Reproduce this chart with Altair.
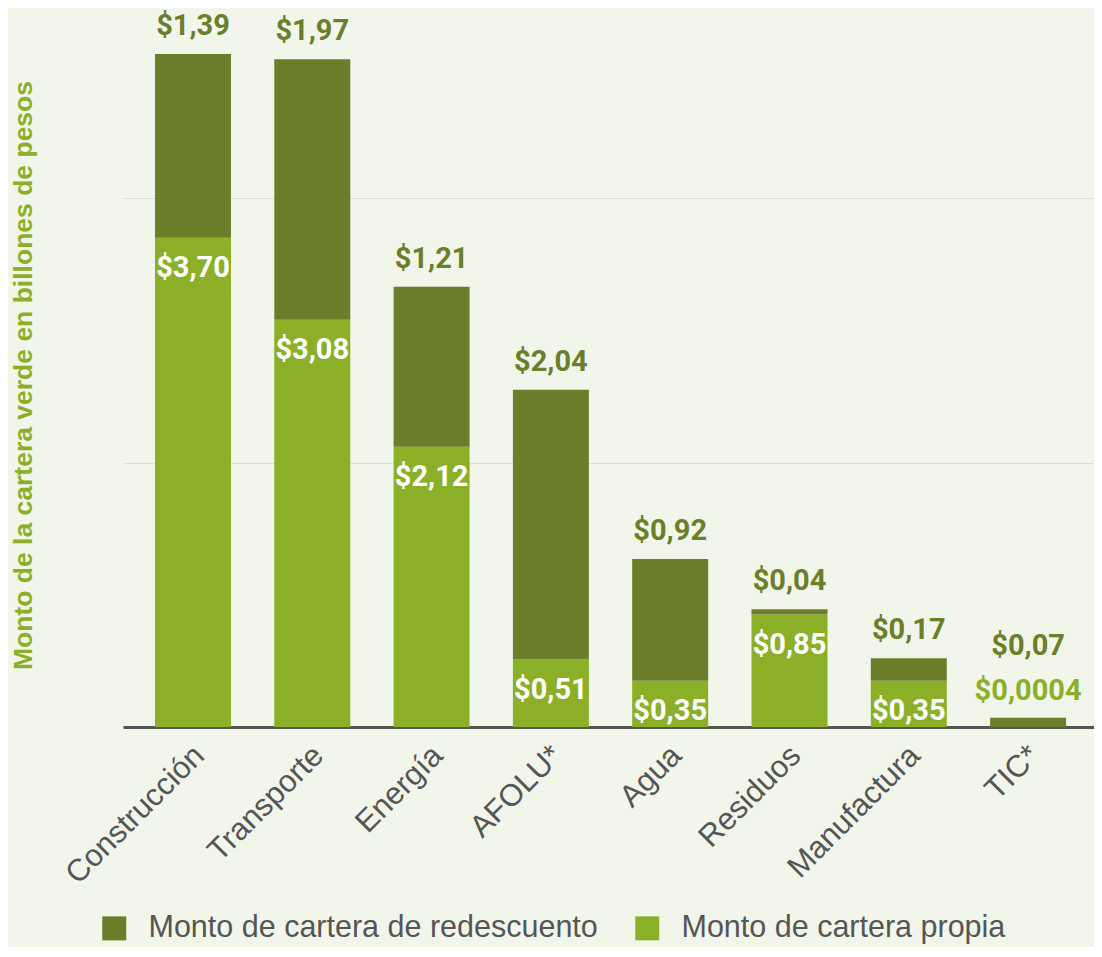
import altair as alt
import pandas as pd

categories = ["Construcción", "Transporte", "Energía", "AFOLU*", "Agua", "Residuos", "Manufactura", "TIC*"]
propia = [3.70, 3.08, 2.12, 0.51, 0.35, 0.85, 0.35, 0.0004]
redescuento = [1.39, 1.97, 1.21, 2.04, 0.92, 0.04, 0.17, 0.07]
series_names = ["Monto de cartera de redescuento", "Monto de cartera propia"]
grid_values = [0, 2, 4]

DARK = "#6B7E2A"
LIGHT = "#8BB028"
BG = "#F2F6EA"
GRAY = "#555555"
NUM_FONT = "Roboto, DejaVu Sans Condensed, sans-serif"
TXT_FONT = "Liberation Sans, Arial, sans-serif"
NUM_SIZE = 29


def fmt(v):
    s = f"{v:.4f}" if v < 0.01 else f"{v:.2f}"
    return "$" + s.replace(".", ",")


rows = []
for c, p, r in zip(categories, propia, redescuento):
    rows.append({"cat": c, "serie": series_names[1], "valor": p, "orden": 0})
    rows.append({"cat": c, "serie": series_names[0], "valor": r, "orden": 1})
bars_df = pd.DataFrame(rows)

lab_df = pd.DataFrame({
    "cat": categories,
    "propia": propia,
    "total": [p + r for p, r in zip(propia, redescuento)],
    "lab_p": [fmt(p) for p in propia],
    "lab_r": [fmt(r) for r in redescuento],
})

x_axis = alt.Axis(title=None, labelAngle=-45, labelFont=TXT_FONT, labelFontSize=31,
                  labelColor=GRAY, labelPadding=13, labelOffset=-4, ticks=False,
                  domainColor=GRAY, domainWidth=3, grid=False, labelLimit=400)
x_scale = alt.Scale(paddingInner=0.363, paddingOuter=0.251, align=0.534)
y_axis = alt.Axis(title="Monto de la cartera verde en billones de pesos", values=grid_values,
                  labels=False, ticks=False, domain=False, grid=True, gridColor="#DCDCDC",
                  gridWidth=1.2, titleFont=TXT_FONT, titleFontWeight="bold", titleFontSize=26.5,
                  titleColor=LIGHT, titleX=-100, titleY=362, titleAngle=270,
                  titleAlign="center", titleBaseline="middle")
y_scale = alt.Scale(domain=[0, 5.4], nice=False)


def xenc():
    return alt.X("cat:N", sort=categories, scale=x_scale, axis=x_axis)


def yenc(field):
    return alt.Y(field, scale=y_scale, axis=y_axis)


bars = alt.Chart(bars_df).mark_bar().encode(
    x=xenc(),
    y=alt.Y("valor:Q", stack="zero", scale=y_scale, axis=y_axis),
    color=alt.Color("serie:N", scale=alt.Scale(domain=series_names, range=[DARK, LIGHT]),
                    legend=alt.Legend(title=None, orient="none", legendX=-24, legendY=900,
                                      direction="horizontal", symbolType="square",
                                      symbolSize=576, symbolStrokeWidth=0, symbolOpacity=1,
                                      labelFont=TXT_FONT, labelFontSize=30.5, labelColor=GRAY,
                                      labelOffset=19, columnPadding=34, padding=0,
                                      labelLimit=700)),
    order=alt.Order("orden:Q", sort="ascending"),
)

top_labels = alt.Chart(lab_df).transform_filter(alt.datum.cat != "TIC*").mark_text(
    dy=-28, font=NUM_FONT, fontSize=NUM_SIZE, fontWeight="bold", color=DARK, baseline="middle"
).encode(x=xenc(), y=yenc("total:Q"), text="lab_r:N")

in_labels = alt.Chart(lab_df).transform_filter(alt.datum.cat != "TIC*").mark_text(
    dy=30, font=NUM_FONT, fontSize=NUM_SIZE, fontWeight="bold", color="white", baseline="middle"
).encode(x=xenc(), y=yenc("propia:Q"), text="lab_p:N")

tic_p = alt.Chart(lab_df).transform_filter(alt.datum.cat == "TIC*").mark_text(
    dy=-27, font=NUM_FONT, fontSize=NUM_SIZE, fontWeight="bold", color=LIGHT, baseline="middle"
).encode(x=xenc(), y=yenc("total:Q"), text="lab_p:N")

tic_r = alt.Chart(lab_df).transform_filter(alt.datum.cat == "TIC*").mark_text(
    dy=-72, font=NUM_FONT, fontSize=NUM_SIZE, fontWeight="bold", color=DARK, baseline="middle"
).encode(x=xenc(), y=yenc("total:Q"), text="lab_r:N")

chart = alt.layer(bars, top_labels, in_labels, tic_p, tic_r).properties(
    width=971, height=714,
    autosize=alt.AutoSizeParams(type="none"),
    padding={"left": 115, "top": 5, "right": 0, "bottom": 220},
    background=BG,
).configure_view(stroke=None)

chart.save("out.html", embed_options={"renderer": "svg", "actions": False})
